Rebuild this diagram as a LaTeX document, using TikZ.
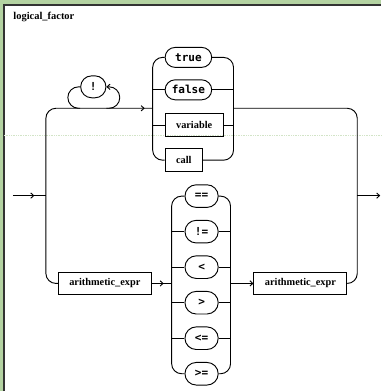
\documentclass[tikz,border=0pt]{standalone}
\usepackage{fontspec}
\newfontfamily\ntfont{Liberation Serif}
\newfontfamily\tfont{DejaVu Sans Mono}
\usetikzlibrary{positioning,shapes.misc,arrows.meta,decorations.markings}
\definecolor{paper}{RGB}{180,211,162}
\tikzset{nonterm/.style={draw,rectangle,font=\ntfont\bfseries\fontsize{7.75}{9}\selectfont,inner xsep=8.25pt,inner ysep=1pt,minimum height=17pt},
         term/.style={draw,rounded rectangle,font=\tfont\bfseries\fontsize{8.3}{10}\selectfont,inner sep=1pt,minimum width=#1,minimum height=15pt},
         term/.default=27pt,
         op/.style={term,minimum height=17pt},
         rc/.style={rounded corners=7.5pt},
         midarrow/.style={postaction={decorate},decoration={markings,mark=at position #1 with {\arrow{>}}}}
     }

\begin{document}
\begin{tikzpicture}[x=0.75pt,y=-0.75pt,line width=0.7pt,>={Straight Barb[length=2.2pt,width=4pt]}]
% page and panel
\fill[paper] (0,0) rectangle (382,392);
\fill[white] (4,5) rectangle (382,392);
\draw[line width=1.2pt,black!80] (4,392) -- (4,5) -- (382,5);
\draw[paper!60,densely dotted,line width=0.3pt] (4,135) -- (382,135);
\useasboundingbox (0,0) rectangle (382,392);
\node[anchor=base west,inner sep=0,font=\ntfont\bfseries\fontsize{7.85}{9}\selectfont] (title) at (13,20) {logical\_factor};
% junctions
\coordinate (start) at (13,196);
\coordinate (lsplit) at (46,196);
\coordinate (rsplit) at (358,196);
\coordinate (finish) at (381,196);
\coordinate (tin) at (153,108.5);
\coordinate (tout) at (234,108.5);
\coordinate (cin) at (172,284);
\coordinate (cout) at (231,284);
\coordinate (loopl) at (68,108.5);
\coordinate (loopr) at (120,108.5);
% nodes
\node[term=21pt,minimum height=16.5pt] (bang) at (93.5,87) {!};
\node[term=37pt,anchor=west] (true) at (165,57.5) {true};
\node[term=37pt,anchor=west] (false) at (165,90) {false};
\node[nonterm,anchor=west] (variable) at (165,125.5) {variable};
\node[nonterm,anchor=west] (call) at (165,160.5) {call};
\node[nonterm,anchor=west] (ae1) at (58,284) {arithmetic\_expr};
\node[nonterm,anchor=west] (ae2) at (254,284) {arithmetic\_expr};
\node[op] (eq) at (202,196.5) {==};
\node[op,below=9pt of eq] (ne) {!=};
\node[op,below=9pt of ne] (lt) {<};
\node[op,below=9pt of lt] (gt) {>};
\node[op,below=9pt of gt] (le) {<=};
\node[op,below=9pt of le] (ge) {>=};
% entry and exit
\draw[midarrow=0.65] (start) -- (lsplit);
\draw[->] (rsplit) -- (finish);
% upper branch
\draw[rc,midarrow=-6pt] (lsplit) |- (tin);
\draw[rounded corners=8pt,<-] (bang.east) -| (loopr) -- (loopr -| bang.east);
\draw[rounded corners=8pt] (bang.west) -| (loopl) -- (loopl -| bang.west);
\draw[rc] (true.west) -| (tin) |- (call.west);
\draw (tin |- false.west) -- (false.west);
\draw (tin |- variable.west) -- (variable.west);
\draw[rc] (true.east) -| (tout) |- (call.east);
\draw (false.east) -- (tout |- false.east);
\draw (variable.east) -- (tout |- variable.east);
\draw[rc] (tout) -| (rsplit);
% lower branch
\draw[rc] (lsplit) |- (ae1.west);
\draw[midarrow=0.6] (ae1.east) -- (cin);
\draw[rc] (eq.west) -| (cin) |- (ge.west);
\draw[rc] (eq.east) -| (cout) |- (ge.east);
\foreach \o in {ne,lt,gt,le} {
  \draw (cin |- \o.west) -- (\o.west);
  \draw (\o.east) -- (cout |- \o.east);
}
\draw[->] (cout) -- (ae2.west);
\draw[rc] (ae2.east) -| (rsplit);
\end{tikzpicture}
\end{document}
